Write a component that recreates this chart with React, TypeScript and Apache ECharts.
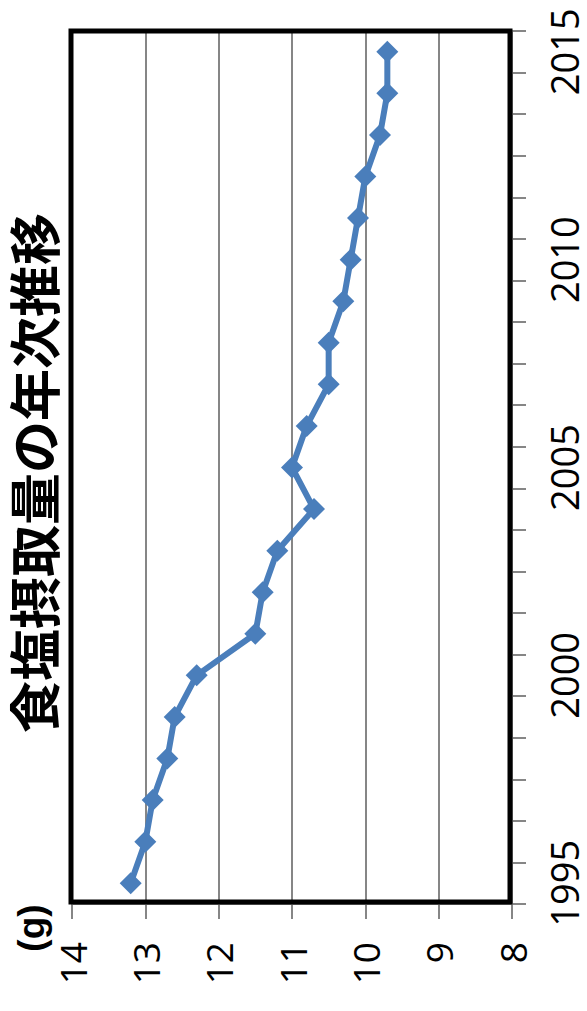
import React, { useEffect, useRef } from "react";
import * as echarts from "echarts";

const years = [
  "1995", "1996", "1997", "1998", "1999", "2000", "2001", "2002", "2003", "2004",
  "2005", "2006", "2007", "2008", "2009", "2010", "2011", "2012", "2013", "2014", "2015",
];
const saltIntake = [
  13.2, 13.0, 12.9, 12.7, 12.6, 12.3, 11.5, 11.4, 11.2, 10.7,
  11.0, 10.8, 10.5, 10.5, 10.3, 10.2, 10.1, 10.0, 9.8, 9.7, 9.7,
];
const titleText = "食塩摂取量の年次推移";
const unitText = "(g)";

export default function App() {
  const ref = useRef<HTMLDivElement>(null);
  useEffect(() => {
    if (!ref.current) return;
    const chart = echarts.init(ref.current, null, { renderer: "svg" });
    const labelFont = "'Open Sans', 'Liberation Sans', sans-serif";
    chart.setOption({
      animation: false,
      backgroundColor: "#fff",
      grid: { left: 72, right: 75, top: 31, bottom: 107, containLabel: false },
      xAxis: {
        type: "value",
        min: 8,
        max: 14,
        interval: 1,
        inverse: true,
        axisLine: { show: true, lineStyle: { color: "#868686", width: 2 } },
        axisTick: { show: true, length: 15, lineStyle: { color: "#868686", width: 2 } },
        splitLine: { show: true, lineStyle: { color: "#868686", width: 2 } },
        axisLabel: {
          rotate: 90,
          margin: 38,
          fontSize: 37,
          color: "#000",
          fontFamily: labelFont,
        },
      },
      yAxis: {
        type: "category",
        position: "right",
        data: years,
        boundaryGap: true,
        axisLine: { show: true, lineStyle: { color: "#868686", width: 2 } },
        axisTick: { show: true, interval: 0, length: 14, lineStyle: { color: "#868686", width: 2 } },
        splitLine: { show: false },
        axisLabel: {
          interval: 4,
          rotate: 90,
          margin: 33,
          fontSize: 38,
          color: "#000",
          fontFamily: labelFont,
        },
      },
      graphic: [
        {
          type: "rect",
          z: 1,
          shape: { x: 71, y: 31, width: 439, height: 871 },
          style: { fill: "none", stroke: "#000", lineWidth: 5 },
        },
        {
          type: "text",
          x: 32,
          y: 473,
          rotation: Math.PI / 2,
          style: {
            text: titleText,
            fontSize: 52,
            fontWeight: "bold",
            fontFamily: "'Noto Sans CJK JP', sans-serif",
            fill: "#000",
            textAlign: "center",
            textVerticalAlign: "middle",
          },
        },
        {
          type: "text",
          x: 31,
          y: 928,
          rotation: Math.PI / 2,
          style: {
            text: unitText,
            fontSize: 37,
            fontWeight: "bold",
            fontFamily: "'Liberation Sans', sans-serif",
            fill: "#000",
            textAlign: "center",
            textVerticalAlign: "middle",
          },
        },
      ],
      series: [
        {
          type: "line",
          z: 5,
          data: saltIntake.map((v, i) => [v, years[i]]),
          lineStyle: { color: "#4a7ebb", width: 6 },
          itemStyle: { color: "#4a7ebb" },
          symbol: "diamond",
          symbolSize: 22,
          showSymbol: true,
        },
      ],
    });
    return () => chart.dispose();
  }, []);
  return (
    <div
      ref={ref}
      style={{ position: "fixed", left: 0, top: 0, width: 587, height: 1011 }}
    />
  );
}
